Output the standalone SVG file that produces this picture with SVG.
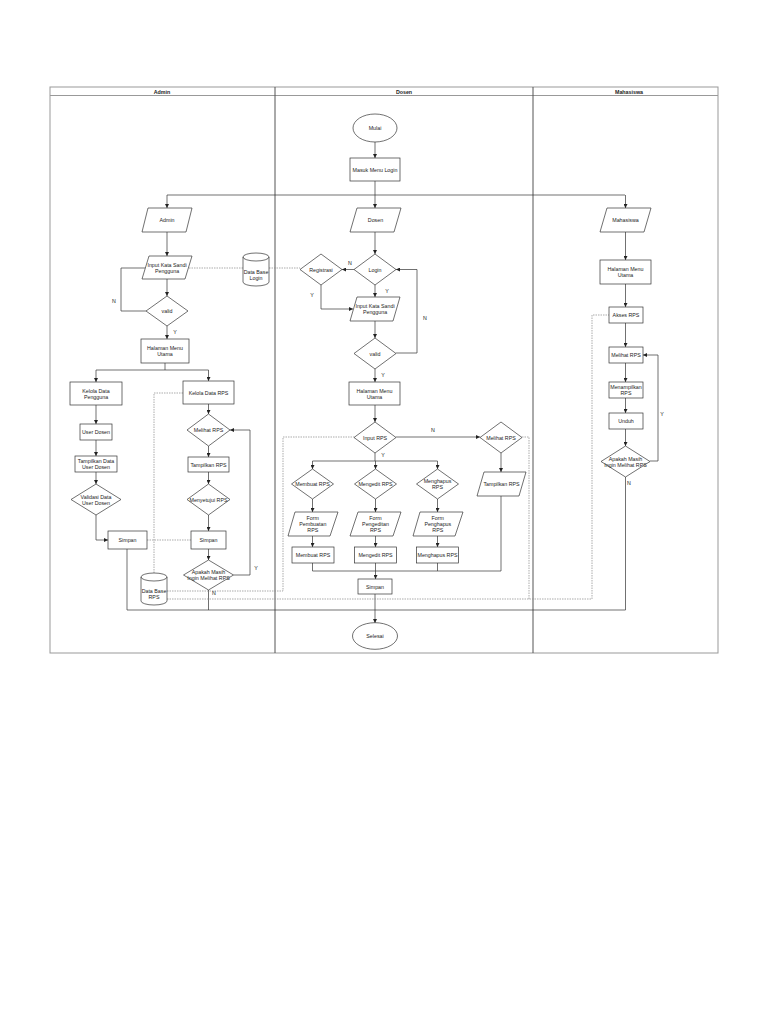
<svg xmlns="http://www.w3.org/2000/svg" width="768" height="1024" viewBox="0 0 768 1024">
<style>
.s{fill:#fff;stroke:#333;stroke-width:0.7}
.c{fill:none;stroke:#333;stroke-width:0.7}
.ca{fill:none;stroke:#333;stroke-width:0.7;marker-end:url(#a)}
.d{fill:none;stroke:#888;stroke-width:0.7;stroke-dasharray:1.5 1}
.t{font-family:"Liberation Sans",Arial,sans-serif;font-size:5.3px;fill:#222;text-anchor:middle;dominant-baseline:central}
.h{font-family:"Liberation Sans",Arial,sans-serif;font-size:5.3px;font-weight:bold;fill:#222;text-anchor:middle;dominant-baseline:central}
.lane{fill:none;stroke:#555;stroke-width:1}
.fr{fill:none;stroke:#999;stroke-width:1}
</style>
<defs>
<marker id="a" viewBox="0 0 6 6" refX="6" refY="3" markerWidth="4" markerHeight="4" orient="auto" markerUnits="userSpaceOnUse">
<path d="M0,0 L6,3 L0,6 z" fill="#222"/>
</marker>
</defs>
<rect width="768" height="1024" fill="#fff"/>
<g id="frame">
<rect class="fr" x="50" y="87" width="668" height="566"/>
<line class="fr" x1="50" y1="95.5" x2="718" y2="95.5"/>
<line class="lane" x1="275" y1="87" x2="275" y2="653"/>
<line class="lane" x1="533" y1="87" x2="533" y2="653"/>
<text class="h" x="162" y="91.5">Admin</text>
<text class="h" x="404" y="91.5">Dosen</text>
<text class="h" x="629" y="91.5">Mahasiswa</text>
</g>
<g id="connectors">
<path class="ca" d="M375,142 V158"/>
<path class="ca" d="M375,181 V208"/>
<path class="c" d="M167,195 H625"/>
<path class="ca" d="M167,195 V208"/>
<path class="ca" d="M625.5,195 V208"/>
<path class="ca" d="M167,232 V256"/>
<path class="ca" d="M167,279 V296"/>
<path class="c" d="M146,311 H121 V268 H145.5"/>
<path class="ca" d="M167,326 V339"/>
<path class="c" d="M165,363 V370"/>
<path class="c" d="M96,370 H208.5"/>
<path class="ca" d="M96,370 V382"/>
<path class="ca" d="M208.5,370 V381"/>
<path class="ca" d="M96,405 V424"/>
<path class="ca" d="M96,440 V456"/>
<path class="ca" d="M96,472 V484"/>
<path class="ca" d="M96,515 V540 H108"/>
<path class="ca" d="M208.5,404 V414"/>
<path class="ca" d="M208.5,446 V457"/>
<path class="ca" d="M208.5,472 V484"/>
<path class="ca" d="M208.5,515 V531"/>
<path class="ca" d="M208.5,549 V560"/>
<path class="ca" d="M233.5,575 H250 V430 H230"/>
<path class="c" d="M208.5,590 V610"/>
<path class="c" d="M127,549 V610 H625.5 V477"/>
<path class="ca" d="M375,232 V254"/>
<path class="ca" d="M354,269.5 H342"/>
<path class="ca" d="M321,285 V309 H353"/>
<path class="ca" d="M375,285 V297"/>
<path class="ca" d="M375,321 V338"/>
<path class="ca" d="M396,353 H417 V269.5 H396"/>
<path class="ca" d="M375,369 V382"/>
<path class="ca" d="M375,405 V422"/>
<path class="ca" d="M396,437 H480"/>
<path class="c" d="M375,453 V461"/>
<path class="c" d="M312.5,461 H437.5"/>
<path class="ca" d="M312.5,461 V469"/>
<path class="ca" d="M375.5,461 V469"/>
<path class="ca" d="M437.5,461 V469"/>
<path class="ca" d="M312.5,499 V512"/>
<path class="ca" d="M375.5,499 V512"/>
<path class="ca" d="M437.5,499 V512"/>
<path class="ca" d="M312.5,536 V547"/>
<path class="ca" d="M375.5,536 V547"/>
<path class="ca" d="M437.5,536 V547"/>
<path class="c" d="M312.5,563 V571 H501 V496"/>
<path class="c" d="M437.5,563 V571"/>
<path class="ca" d="M375.5,563 V579"/>
<path class="ca" d="M501,453 V472"/>
<path class="ca" d="M375,594 V623"/>
<path class="ca" d="M625.5,232 V260"/>
<path class="ca" d="M625.5,284 V307"/>
<path class="ca" d="M625.5,323 V347"/>
<path class="ca" d="M625.5,363 V382"/>
<path class="ca" d="M625.5,398 V413"/>
<path class="ca" d="M625.5,429 V446"/>
<path class="ca" d="M650,461 H658 V355 H643"/>
<path class="d" d="M189,268 H243"/>
<path class="d" d="M269,268 H300"/>
<path class="d" d="M154,573 V393 H183"/>
<path class="d" d="M147,540 H191"/>
<path class="d" d="M167,591 H283 V437 H354"/>
<path class="d" d="M167,599 H592 V315 H609"/>
<path class="d" d="M522,437 H529 V599"/>
<text class="t" x="114" y="301">N</text>
<text class="t" x="175" y="332">Y</text>
<text class="t" x="256" y="568">Y</text>
<text class="t" x="214" y="593">N</text>
<text class="t" x="350" y="263">N</text>
<text class="t" x="312" y="295">Y</text>
<text class="t" x="387" y="291">Y</text>
<text class="t" x="425" y="318">N</text>
<text class="t" x="383" y="375">Y</text>
<text class="t" x="433" y="430">N</text>
<text class="t" x="383" y="455">Y</text>
<text class="t" x="662" y="414">Y</text>
<text class="t" x="629" y="483">N</text>
</g>
<g id="mulai"><ellipse class="s" cx="375" cy="128" rx="22" ry="14"/><text class="t" x="375" y="128">Mulai</text></g>
<g id="masuk-menu-login"><rect class="s" x="350" y="158" width="50" height="23"/><text class="t" x="375" y="169.5">Masuk Menu Login</text></g>
<g id="admin"><path class="s" d="M148,208 H192 L186,232 H142 Z"/><text class="t" x="167" y="220">Admin</text></g>
<g id="dosen"><path class="s" d="M357,208 H401 L394,232 H350 Z"/><text class="t" x="375.5" y="220">Dosen</text></g>
<g id="mahasiswa"><path class="s" d="M607,208 H651 L644,232 H600 Z"/><text class="t" x="625.5" y="220">Mahasiswa</text></g>
<g id="admin-input"><path class="s" d="M149,256 H192 L185,279 H142 Z"/><text class="t" x="167" y="264.5">Input Kata Sandi</text><text class="t" x="167" y="270.5">Pengguna</text></g>
<g id="db-login"><path class="s" d="M243,257 a13,4 0 0 1 26,0 V282 a13,4 0 0 1 -26,0 Z"/><path class="c" d="M243,257 a13,4 0 0 0 26,0"/><text class="t" x="256" y="271.5">Data Base</text><text class="t" x="256" y="277.5">Login</text></g>
<g id="admin-valid"><path class="s" d="M167,296 L188,311 L167,326 L146,311 Z"/><text class="t" x="167" y="311">valid</text></g>
<g id="admin-halaman"><rect class="s" x="141" y="339" width="48" height="24"/><text class="t" x="165" y="348">Halaman Menu</text><text class="t" x="165" y="354">Utama</text></g>
<g id="kelola-pengguna"><rect class="s" x="70" y="382" width="52" height="23"/><text class="t" x="96" y="390.5">Kelola Data</text><text class="t" x="96" y="396.5">Pengguna</text></g>
<g id="user-dosen"><rect class="s" x="80" y="424" width="32" height="16"/><text class="t" x="96" y="432">User Dosen</text></g>
<g id="tampilkan-user"><rect class="s" x="75" y="456" width="42" height="16"/><text class="t" x="96" y="461">Tampilkan Data</text><text class="t" x="96" y="467">User Dosen</text></g>
<g id="validasi"><path class="s" d="M96,484 L121,499.5 L96,515 L71,499.5 Z"/><text class="t" x="96" y="496.5">Validasi Data</text><text class="t" x="96" y="502.5">User Dosen</text></g>
<g id="admin-simpan1"><rect class="s" x="108" y="531" width="39" height="18"/><text class="t" x="127.5" y="540">Simpan</text></g>
<g id="kelola-rps"><rect class="s" x="183" y="381" width="51" height="23"/><text class="t" x="208.5" y="392.5">Kelola Data RPS</text></g>
<g id="admin-melihat"><path class="s" d="M208.5,414 L230,430 L208.5,446 L187,430 Z"/><text class="t" x="208.5" y="430">Melihat RPS</text></g>
<g id="admin-tampilkan"><rect class="s" x="188" y="457" width="41" height="15"/><text class="t" x="208.5" y="464.5">Tampilkan RPS</text></g>
<g id="menyetujui"><path class="s" d="M208.5,484 L230,499.5 L208.5,515 L187,499.5 Z"/><text class="t" x="208.5" y="499.5">Menyetujui RPS</text></g>
<g id="admin-simpan2"><rect class="s" x="191" y="531" width="35" height="18"/><text class="t" x="208.5" y="540">Simpan</text></g>
<g id="admin-apakah"><path class="s" d="M208.5,560 L233.5,575 L208.5,590 L183.5,575 Z"/><text class="t" x="208.5" y="572">Apakah Masih</text><text class="t" x="208.5" y="578">Ingin Melihat RPS</text></g>
<g id="db-rps"><path class="s" d="M141,577 a13,4 0 0 1 26,0 V601 a13,4 0 0 1 -26,0 Z"/><path class="c" d="M141,577 a13,4 0 0 0 26,0"/><text class="t" x="154" y="590.5">Data Base</text><text class="t" x="154" y="596.5">RPS</text></g>
<g id="login"><path class="s" d="M375,254 L396,269.5 L375,285 L354,269.5 Z"/><text class="t" x="375" y="269.5">Login</text></g>
<g id="registrasi"><path class="s" d="M321,254 L342,269.5 L321,285 L300,269.5 Z"/><text class="t" x="321" y="269.5">Registrasi</text></g>
<g id="dosen-input"><path class="s" d="M357,297 H400 L393,321 H350 Z"/><text class="t" x="375" y="306">Input Kata Sandi</text><text class="t" x="375" y="312">Pengguna</text></g>
<g id="dosen-valid"><path class="s" d="M375,338 L396,353.5 L375,369 L354,353.5 Z"/><text class="t" x="375" y="353.5">valid</text></g>
<g id="dosen-halaman"><rect class="s" x="349" y="382" width="51" height="23"/><text class="t" x="374.5" y="390.5">Halaman Menu</text><text class="t" x="374.5" y="396.5">Utama</text></g>
<g id="input-rps"><path class="s" d="M375,422 L396,437.5 L375,453 L354,437.5 Z"/><text class="t" x="375" y="437.5">Input RPS</text></g>
<g id="dosen-melihat"><path class="s" d="M501,422 L522,437.5 L501,453 L480,437.5 Z"/><text class="t" x="501" y="437.5">Melihat RPS</text></g>
<g id="dosen-tampilkan"><path class="s" d="M484,472 H526 L519,496 H477 Z"/><text class="t" x="501.5" y="484">Tampilkan RPS</text></g>
<g id="membuat-d"><path class="s" d="M312.5,469 L333.5,484 L312.5,499 L291.5,484 Z"/><text class="t" x="312.5" y="484">Membuat RPS</text></g>
<g id="mengedit-d"><path class="s" d="M375.5,469 L396.5,484 L375.5,499 L354.5,484 Z"/><text class="t" x="375.5" y="484">Mengedit RPS</text></g>
<g id="menghapus-d"><path class="s" d="M437.5,469 L458.5,484 L437.5,499 L416.5,484 Z"/><text class="t" x="437.5" y="481">Menghapus</text><text class="t" x="437.5" y="487">RPS</text></g>
<g id="form-pembuatan"><path class="s" d="M295,512 H338 L330,536 H288 Z"/><text class="t" x="312.8" y="518">Form</text><text class="t" x="312.8" y="524">Pembuatan</text><text class="t" x="312.8" y="530">RPS</text></g>
<g id="form-pengeditan"><path class="s" d="M358,512 H401 L393,536 H350 Z"/><text class="t" x="375.5" y="518">Form</text><text class="t" x="375.5" y="524">Pengeditan</text><text class="t" x="375.5" y="530">RPS</text></g>
<g id="form-penghapus"><path class="s" d="M420,512 H463 L455,536 H413 Z"/><text class="t" x="437.8" y="518">Form</text><text class="t" x="437.8" y="524">Penghapus</text><text class="t" x="437.8" y="530">RPS</text></g>
<g id="membuat-box"><rect class="s" x="292" y="547" width="42" height="16"/><text class="t" x="313" y="555">Membuat RPS</text></g>
<g id="mengedit-box"><rect class="s" x="354.5" y="547" width="42" height="16"/><text class="t" x="375.5" y="555">Mengedit RPS</text></g>
<g id="menghapus-box"><rect class="s" x="416.5" y="547" width="42" height="16"/><text class="t" x="437.5" y="555">Menghapus RPS</text></g>
<g id="dosen-simpan"><rect class="s" x="358" y="579" width="34" height="15"/><text class="t" x="375" y="586.5">Simpan</text></g>
<g id="selesai"><ellipse class="s" cx="375" cy="636" rx="22.5" ry="13.3"/><text class="t" x="375" y="636">Selesai</text></g>
<g id="mhs-halaman"><rect class="s" x="600" y="260" width="51" height="24"/><text class="t" x="625.5" y="269">Halaman Menu</text><text class="t" x="625.5" y="275">Utama</text></g>
<g id="akses-rps"><rect class="s" x="609" y="307" width="34" height="16"/><text class="t" x="626" y="315">Akses RPS</text></g>
<g id="mhs-melihat"><rect class="s" x="609" y="347" width="34" height="16"/><text class="t" x="626" y="355">Melihat RPS</text></g>
<g id="menampilkan"><rect class="s" x="609" y="382" width="34" height="16"/><text class="t" x="626" y="387">Menampilkan</text><text class="t" x="626" y="393">RPS</text></g>
<g id="unduh"><rect class="s" x="609" y="413" width="34" height="16"/><text class="t" x="626" y="421">Unduh</text></g>
<g id="mhs-apakah"><path class="s" d="M625.5,446 L650,461.5 L625.5,477 L601,461.5 Z"/><text class="t" x="625.5" y="458.5">Apakah Masih</text><text class="t" x="625.5" y="464.5">Ingin Melihat RPS</text></g>
</svg>
